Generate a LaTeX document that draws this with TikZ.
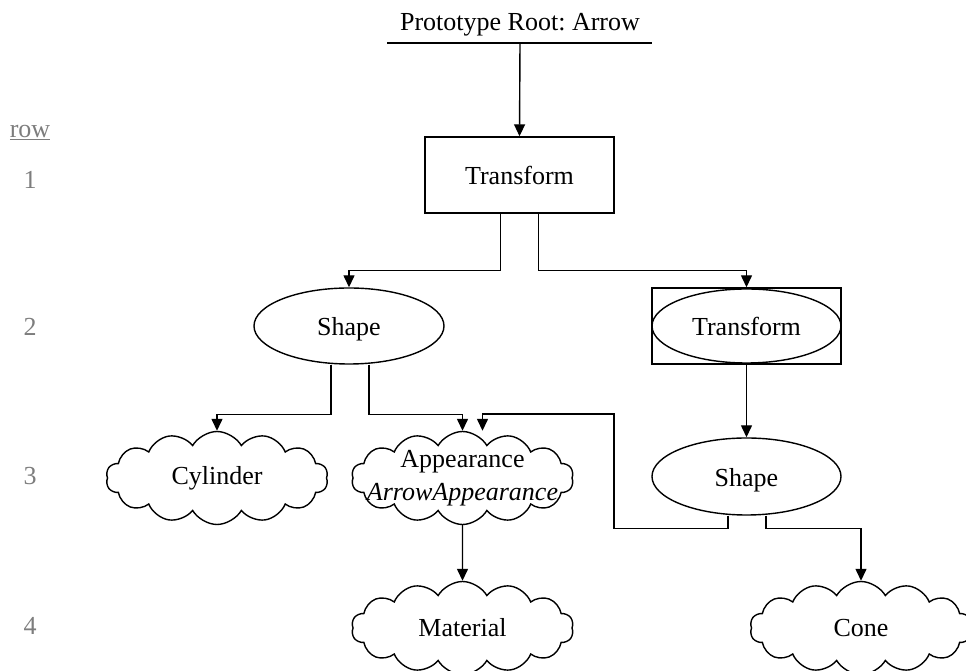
\documentclass[tikz,border=0pt]{standalone}
\usepackage{fontspec}
\setmainfont{Liberation Serif}
\frenchspacing
\usetikzlibrary{shapes.geometric,shapes.symbols,arrows.meta,calc}
\definecolor{rowgray}{RGB}{125,125,125}
\begin{document}
\begin{tikzpicture}[x=1pt,y=1pt,
  every node/.style={font=\fontsize{26}{33}\selectfont},
  conn/.style={line width=1.4pt},
  arr/.style={conn,-{Triangle[length=12pt,width=11pt]}},
  boxnode/.style={draw,line width=1.4pt,rectangle,minimum width=189pt,minimum height=76pt,inner sep=0pt},
  ellnode/.style={draw,line width=1.4pt,ellipse,minimum width=190pt,minimum height=76pt,inner sep=0pt,text height=22pt,text depth=2pt},
  cloudnode/.style={draw,line width=1.4pt,cloud,cloud puffs=14,cloud puff arc=120,aspect=2.4,minimum width=222pt,minimum height=93pt,inner sep=0pt},
  rowlabel/.style={text=rowgray}
]
\path[use as bounding box] (0,0) rectangle (966,671);
\clip (0,0) rectangle (966,671);

% row numbers
\node[rowlabel] (rowhead) at (30,538) {\underline{row}};
\node[rowlabel] (row1) at (30,491) {1};
\node[rowlabel] (row2) at (30,344) {2};
\node[rowlabel] (row3) at (30,195) {3};
\node[rowlabel] (row4) at (30,45) {4};

% prototype root
\node[anchor=base,inner xsep=10pt] (root) at (520,640) {Prototype Root: Arrow};
\coordinate (rootL) at (387,628);
\coordinate (rootR) at (652,628);
\coordinate (rootC) at (520,628);
\draw[conn] (rootL) -- (rootR);

% nodes
\node[boxnode] (t1) at (519.5,496) {Transform};
\node[ellnode] (s1) at (349,345) {Shape};
\node[boxnode] (t2box) at (746.5,345) {};
\node[ellnode,minimum width=189pt,minimum height=74pt] (t2) at (746.5,345) {Transform};
\node[ellnode,minimum width=189pt,minimum height=77pt] (s2) at (746.5,194.5) {Shape};
\node[cloudnode,label={center:Cylinder}] (cyl) at (217,193) {};
\node[cloudnode,label={[align=center]center:Appearance\\\textit{ArrowAppearance}}] (app) at (462.5,193) {};
\node[cloudnode,label={center:Material}] (mat) at (462.5,43) {};
\node[cloudnode,label={center:Cone}] (cone) at (861,43) {};

% connectors
\draw[arr] (rootC) -- (t1.north);
\draw[arr] ([xshift=-19pt]t1.south) -- ++(0,-57) -| (s1.north);
\draw[arr] ([xshift=19pt]t1.south) -- ++(0,-57) -| (t2box.north);
\draw[arr] (t2box.south) -- (s2.north);
\draw[arr] ([xshift=-18pt]s1.south) -- ++(0,-50) -| (cyl.north);
\draw[arr] ([xshift=20pt]s1.south) -- ++(0,-50) -| (app.north);
\draw[arr] ([xshift=-18.5pt]s2.south) -- ++(0,-13) -| (614,257) -| ([xshift=20pt]app.north);
\draw[arr] ([xshift=19.5pt]s2.south) -- ++(0,-13) -| (cone.north);
\draw[arr] (app.south) -- (mat.north);
\end{tikzpicture}
\end{document}
